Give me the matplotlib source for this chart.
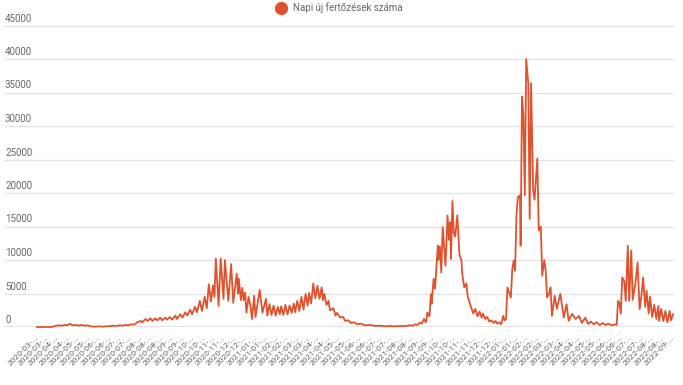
import matplotlib
matplotlib.use("Agg")
import matplotlib.pyplot as plt
from matplotlib.lines import Line2D

# days since 2020-03-04 and the daily count
days = [0, 21, 26, 31, 36, 40, 44, 47, 51, 56, 60, 64, 69, 73, 77, 83, 89, 94, 100, 106,
        110, 114, 119, 123, 127, 131, 136, 140, 144, 149, 151, 156, 159, 163, 166, 170, 173, 177, 180, 184,
        187, 191, 194, 199, 201, 206, 209, 213, 216, 220, 223, 227, 230, 234, 237, 241, 244, 247, 250, 253,
        255, 257, 261, 264, 268, 270, 275, 279, 282, 287, 289, 290, 293, 295, 297, 299, 301, 304, 307, 309,
        312, 314, 320, 324, 329, 331, 334, 337, 340, 343, 346, 349, 351, 354, 357, 360, 363, 366, 369, 371,
        374, 377, 380, 383, 386, 389, 391, 394, 397, 400, 403, 406, 409, 411, 413, 416, 419, 421, 426, 429,
        431, 436, 440, 443, 447, 451, 456, 460, 466, 471, 479, 486, 493, 500, 507, 514, 521, 529, 536, 540,
        544, 547, 550, 553, 556, 559, 561, 564, 566, 567, 570, 572, 574, 576, 577, 579, 581, 583, 585, 587,
        590, 592, 594, 595, 597, 599, 601, 604, 607, 610, 611, 614, 617, 619, 621, 624, 627, 630, 633, 636,
        639, 641, 644, 647, 650, 653, 656, 659, 661, 664, 667, 670, 672, 674, 676, 679, 681, 683, 685, 687,
        689, 691, 694, 695, 697, 699, 701, 703, 706, 708, 710, 713, 715, 719, 721, 724, 726, 729, 731, 733,
        736, 738, 740, 744, 747, 752, 757, 761, 764, 769, 774, 779, 783, 788, 792, 796, 800, 804, 809, 813,
        817, 821, 826, 830, 833, 835, 837, 839, 841, 843, 844, 846, 849, 851, 854, 856, 860, 863, 866, 869,
        871, 874, 876, 879, 881, 884, 887, 890, 893, 894, 897, 900, 903, 906, 909, 911, 914]
cases = [0, 0, 150, 250, 200, 300, 250, 500, 250, 300, 200, 300, 200, 250, 100, 50, 100, 50, 100, 150,
         200, 150, 250, 200, 300, 250, 400, 350, 700, 900, 700, 1200, 900, 1300, 900, 1300, 1000, 1400, 1000, 1400,
         1100, 1500, 1100, 1700, 1200, 1900, 1400, 2200, 1700, 2600, 1900, 3000, 2200, 3900, 2400, 4500, 2800, 6400, 3800, 6200,
         4500, 10200, 3150, 10200, 4200, 10000, 3900, 9400, 3600, 7950, 5000, 7200, 4000, 5850, 4000, 5150, 2150, 4500, 3000, 1200,
         4650, 1500, 5550, 2150, 4200, 1700, 3400, 1800, 3200, 1700, 3000, 1900, 3100, 1800, 3300, 1900, 3200, 2100, 3500, 2200,
         3900, 2400, 4500, 2600, 4950, 3200, 5100, 3500, 6500, 4300, 6150, 4200, 5900, 4000, 4950, 3300, 3900, 2500, 2800, 1700,
         2100, 1400, 1500, 900, 1000, 600, 700, 400, 500, 250, 300, 150, 200, 100, 150, 100, 150, 150, 250, 200,
         400, 300, 650, 500, 1200, 700, 2150, 1600, 4900, 3450, 7200, 5700, 9000, 12150, 10000, 12000, 8150, 14900, 12000, 9150,
         16650, 13000, 15650, 10150, 18800, 14000, 13500, 16650, 10900, 9900, 8000, 5900, 6500, 4500, 3900, 2900, 2000, 2700, 1600, 2300,
         1400, 2000, 1200, 1500, 800, 1000, 600, 900, 500, 700, 400, 1650, 1000, 1200, 5900, 5000, 4400, 8650, 9900, 8400,
         16650, 19400, 19650, 12150, 34400, 31400, 19650, 40000, 36400, 16150, 36400, 20400, 19000, 25150, 14400, 15000, 7650, 10000, 8400, 4400,
         5000, 5900, 1650, 4650, 2700, 4950, 1400, 3400, 900, 1950, 1200, 1650, 600, 1400, 450, 800, 400, 700, 300, 600,
         300, 500, 250, 400, 300, 3900, 3600, 2000, 7400, 7000, 6800, 3900, 12150, 3900, 11400, 4050, 6500, 9650, 2650, 5000,
         7400, 3000, 5400, 2000, 4500, 1500, 3300, 1200, 3150, 900, 2700, 900, 2400, 700, 2400, 1000, 1900]

# x tick labels, one every 15 days, cut short the way the chart shows them
tickLabels = ["2020-03-...", "2020-03-...", "2020-04-...", "2020-04-...", "2020-05-...", "2020-05-...",
              "2020-06-...", "2020-06-...", "2020-07-...", "2020-07-...", "2020-08-...", "2020-08-...",
              "2020-08-...", "2020-09-...", "2020-09-...", "2020-10-...", "2020-10-...", "2020-11-...",
              "2020-11-...", "2020-12-...", "2020-12-...", "2021-01-...", "2021-01-...", "2021-02-...",
              "2021-02-...", "2021-03-...", "2021-03-...", "2021-04-...", "2021-04-...", "2021-05-...",
              "2021-05-...", "2021-06-...", "2021-06-...", "2021-07-...", "2021-07-...", "2021-08-...",
              "2021-08-...", "2021-09-...", "2021-09-...", "2021-10-...", "2021-10-...", "2021-11-...",
              "2021-11-...", "2021-12-...", "2021-12-...", "2022-01-...", "2022-01-...", "2022-02-...",
              "2022-02-...", "2022-03-...", "2022-03-...", "2022-04-...", "2022-04-...", "2022-05-...",
              "2022-05-...", "2022-06-...", "2022-06-...", "2022-07-...", "2022-07-...", "2022-08-...",
              "2022-08-...", "2022-09-..."]
tickStep = 15
yTicks = [0, 5000, 10000, 15000, 20000, 25000, 30000, 35000, 40000, 45000]
seriesName = "Napi új fertőzések száma"

lineColor = "#e0522e"
textColor = "#666666"
gridColor = "#e3e3e3"

plt.rcParams['font.family'] = ['Roboto', 'DejaVu Sans']

fig = plt.figure(figsize=(6.83, 3.85), dpi=100)
ax = fig.add_axes([4 / 683, 58 / 385, 670 / 683, 301.5 / 385])

ax.plot(days, cases, color=lineColor, linewidth=1.3, clip_on=False, zorder=3)

ax.set_xlim(-47.4, 915.4)
ax.set_ylim(0, 45000)

# grid lines with the value written just above each one, on the left
ax.set_yticks(yTicks)
ax.set_yticklabels([])
ax.tick_params(axis='y', length=0)
for v in yTicks:
    ax.axhline(v, color=gridColor, linewidth=1.4 if v == 0 else 0.9, zorder=1)
    ax.annotate(str(v), xy=(0, v), xycoords=('axes fraction', 'data'), xytext=(1, 2),
                textcoords='offset pixels', ha='left', va='bottom', fontsize=7, color=textColor)

tickPos = [i * tickStep for i in range(len(tickLabels))]
ax.set_xticks(tickPos)
ax.set_xticklabels(tickLabels, rotation=45, ha='right', va='center', rotation_mode='anchor',
                   fontsize=6, color=textColor)
ax.tick_params(axis='x', length=0, pad=7)

for s in ax.spines.values():
    s.set_visible(False)

handle = Line2D([], [], marker='o', linestyle='none', markersize=8.5, color=lineColor)
fig.legend(handles=[handle], labels=[seriesName], loc='center', bbox_to_anchor=(337 / 683, 1 - 8 / 385),
           frameon=False, fontsize=7, labelcolor=textColor, handletextpad=0.3, borderpad=0)

fig.savefig("out.png", dpi=100)
